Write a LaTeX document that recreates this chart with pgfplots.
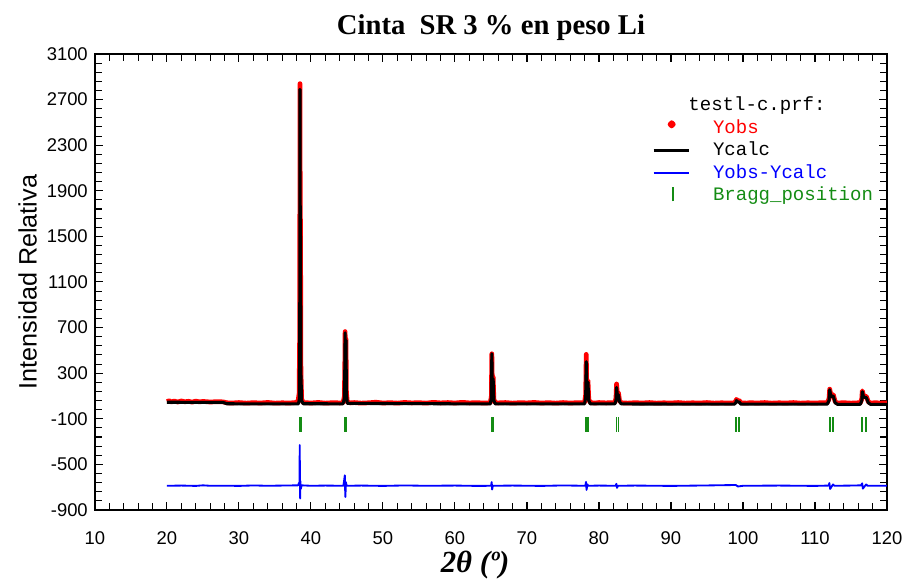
\documentclass[border=0pt]{standalone}
\usepackage{pgfplots}
\pgfplotsset{compat=1.18}
\usepackage{fontspec}
\setmainfont{Liberation Sans}
\newfontfamily\serifb{Liberation Serif}
\newfontfamily\mono{Liberation Mono}
\definecolor{obsred}{RGB}{255,0,0}
\definecolor{diffblue}{RGB}{0,0,255}
\definecolor{braggreen}{RGB}{20,140,20}

% Yobs (red), Ycalc (black), Yobs-Ycalc (blue), Bragg positions (green)
\pgfplotstableread{
x y
20 50
20.3 58
20.6 48
21 55
21.5 47
22 56
22.5 49
23 53
23.5 46
24 55
24.5 48
25 52
26 47
27 50
27.8 48
28.3 40
29 38
30 42
31 37
32 41
33 38
34 43
35 37
36 40
37 38
37.8 42
38.2 50
38.35 120
38.44 700
38.47 2840
38.50 1900
38.55 1480
38.60 330
38.70 75
38.9 42
39.5 40
40 38
41 43
42 37
43 41
44 39
44.45 40
44.64 95
44.71 430
44.74 665
44.78 420
44.80 350
44.86 600
44.92 130
45.05 45
45.5 39
46 42
47 37
48 40
49 45
50 38
51 41
52 37
53 43
54 39
55 41
56 37
57 44
58 39
59 42
60 38
61 44
62 39
63 41
64 38
64.9 40
65.05 95
65.12 470
65.18 215
65.30 265
65.40 70
65.6 41
66 39
67 42
68 37
69 41
70 39
71 43
72 38
73 41
74 37
75 42
76 38
77 41
78.0 42
78.15 110
78.23 465
78.30 200
78.47 235
78.58 70
78.8 41
79.5 38
80 42
81 39
81.5 41
82.2 42
82.36 80
82.44 205
82.55 125
82.71 125
82.85 60
83.1 40
84 37
85 41
86 38
87 42
88 37
89 40
90 38
91 42
92 37
93 40
94 38
95 42
96 37
97 40
98 38
98.8 40
99.0 55
99.08 70
99.3 58
99.45 62
99.7 40
100.5 37
101 41
102 38
103 42
104 37
105 40
106 38
107 42
108 37
109 40
110 38
111 41
111.7 40
111.95 75
112.04 160
112.2 110
112.54 112
112.8 50
113.1 38
114 41
115 37
116 40
116.3 39
116.5 75
116.57 145
116.75 100
117.14 95
117.4 50
117.7 38
118.5 41
119 37
120 39
}\yobs

\pgfplotstableread{
x y
20 45
24 44
27.8 43
28.3 32
30 31
36 30
38.25 31
38.38 70
38.44 600
38.47 2790
38.50 1800
38.55 1420
38.60 300
38.70 60
38.9 32
44.45 31
44.64 80
44.71 400
44.74 655
44.78 400
44.80 330
44.86 590
44.92 120
45.05 35
64.9 30
65.05 80
65.12 470
65.18 200
65.30 250
65.40 60
65.6 30
78.0 30
78.15 90
78.23 400
78.30 180
78.47 220
78.58 60
78.8 30
82.2 30
82.36 60
82.44 175
82.55 110
82.71 110
82.85 50
83.1 30
98.8 28
99.0 40
99.08 60
99.3 45
99.45 50
99.7 28
111.7 28
111.95 60
112.04 155
112.2 95
112.54 100
112.8 40
113.1 27
116.3 27
116.5 60
116.57 138
116.75 90
117.14 85
117.4 40
117.7 27
120 26
}\ycalc

\pgfplotstableread{
x y
20 -688
22 -686
24 -689
25 -684
26 -688
28 -687
30 -689
32 -685
34 -688
36 -686
38.2 -684
38.40 -656
38.44 -330
38.47 -716
38.50 -800
38.53 -646
38.58 -716
38.7 -684
40 -688
42 -686
44.5 -688
44.70 -596
44.74 -716
44.78 -786
44.85 -656
44.95 -688
47 -686
50 -689
53 -685
56 -688
60 -686
63 -689
65.0 -688
65.1 -656
65.16 -721
65.25 -688
68 -686
72 -689
75 -685
78.1 -688
78.2 -654
78.27 -724
78.4 -676
78.5 -688
80 -686
82.3 -688
82.42 -671
82.5 -706
82.65 -688
85 -686
90 -689
95 -685
99 -681
99.3 -694
100 -688
105 -686
110 -689
111.9 -686
112.0 -664
112.1 -716
112.5 -676
112.7 -688
115 -686
116.4 -684
116.55 -666
116.65 -713
117.1 -676
117.3 -688
120 -688
}\ydiff

\pgfplotstableread{
x y
38.47 -150
38.57 -150
44.74 -150
44.86 -150
65.13 -150
65.30 -150
78.23 -150
78.45 -150
82.44 -150
82.70 -150
99.08 -150
99.40 -150
112.04 -150
112.50 -150
116.57 -150
117.10 -150
}\bragg

\begin{document}
\begin{tikzpicture}
\begin{axis}[
    scale only axis,
    width=13.6cm, height=7.83cm,
    xmin=10, xmax=120, ymin=-900, ymax=3100,
    xtick={10,20,...,120},
    ytick={-900,-500,...,3100},
    minor x tick num=4,
    minor y tick num=4,
    tick pos=both,
    tick align=inside,
    major tick length=4pt,
    minor tick length=3.5pt,
    axis line style={line width=0.7pt},
    every tick/.style={black, line width=0.5pt},
    /pgf/number format/assume math mode=true,
    /pgf/number format/1000 sep={},
    tick label style={font=\fontsize{9}{10.5}\selectfont},
    xticklabel style={yshift=-7pt},
    title={Cinta\ \ SR 3 \% en peso Li},
    title style={font=\serifb\bfseries\fontsize{14}{16}\selectfont, yshift=-3pt},
    xlabel={2θ (º)},
    xlabel style={font=\serifb\bfseries\itshape\fontsize{15}{17}\selectfont,
        at={(axis description cs:0.48,-0.12)}, anchor=center},
    ylabel={Intensidad Relativa},
    ylabel style={font=\fontsize{12.3}{14}\selectfont, yshift=-2pt},
    legend style={at={(0.695,0.925)}, anchor=north west, draw=none, fill=none,
        font=\mono\fontsize{9.3}{10.5}\selectfont, row sep=-1.2pt},
    legend cell align=left,
]
\addlegendimage{empty legend}
\addlegendentry{\hspace*{-12pt}testl-c.prf:}
\addplot[obsred, line width=2.3pt, line join=round,
    legend image code/.code={\fill[obsred] (0.31cm,0.06cm) circle (0.8pt);
        \path[draw=none, fill=none] (0cm,0cm) -- (0.95cm,0cm);}]
    table[x=x, y=y] {\yobs};
\addlegendentry{\textcolor{obsred}{Yobs}}
\addplot[black, line width=1.5pt, line join=round,
    legend image code/.code={\draw[black, line width=1.6pt] (0cm,0cm) -- (0.6cm,0cm);
        \path[draw=none, fill=none] (0cm,0cm) -- (0.95cm,0cm);}]
    table[x=x, y=y] {\ycalc};
\addlegendentry{Ycalc}
\addplot[diffblue, line width=0.9pt, line join=round,
    legend image code/.code={\draw[diffblue, line width=0.6pt] (0cm,0cm) -- (0.6cm,0cm);
        \path[draw=none, fill=none] (0cm,0cm) -- (0.95cm,0cm);}]
    table[x=x, y=y] {\ydiff};
\addlegendentry{\textcolor{diffblue}{Yobs-Ycalc}}
\addplot[braggreen, only marks, mark=|, mark size=3.6pt, mark options={line width=0.9pt},
    legend image code/.code={\draw[braggreen, line width=0.9pt] (0.33cm,-0.1cm) -- (0.33cm,0.15cm);
        \path[draw=none, fill=none] (0cm,0cm) -- (0.95cm,0cm);}]
    table[x=x, y=y] {\bragg};
\addlegendentry{\textcolor{braggreen}{Bragg\_position}}
\end{axis}
\pgfresetboundingbox
\path[use as bounding box] (-1.631cm,-1.219cm) rectangle (13.875cm,8.757cm);
\end{tikzpicture}
\end{document}
